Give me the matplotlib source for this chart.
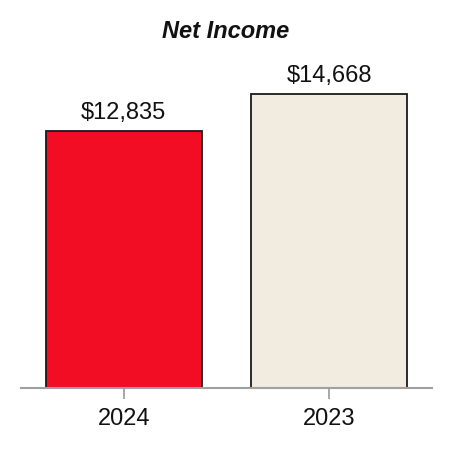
import matplotlib
matplotlib.use("Agg")
import matplotlib.pyplot as plt

categories = ["2024", "2023"]
values = [12835, 14668]
labels = ["$12,835", "$14,668"]
colors = ["#F20C24", "#F2EBDF"]

plt.rcParams['font.family'] = ['Liberation Sans', 'DejaVu Sans']

fig = plt.figure(figsize=(4.52, 4.52), dpi=100)
ax = fig.add_axes([21/452, 1 - 389/452, 411/452, 329/452])

x = list(range(len(categories)))
bars = ax.bar(x, values, width=0.76, color=colors, edgecolor="#1a1a1a", linewidth=1.3, zorder=2)
for xi, v, lab in zip(x, values, labels):
    ax.annotate(lab, (xi, v), xytext=(0, 6), textcoords="offset points",
                ha="center", va="bottom", fontsize=17, color="#111111")

ax.set_xlim(-0.5, 1.5)
ax.set_ylim(0, 16434)
ax.set_xticks(x)
ax.set_xticklabels(categories, fontsize=17, color="#111111")
ax.tick_params(axis="x", length=8, width=1.3, color="#A0A0A0", pad=6)
ax.set_yticks([])
for s in ["top", "right", "left"]:
    ax.spines[s].set_visible(False)
ax.spines["bottom"].set_color("#A0A0A0")
ax.spines["bottom"].set_linewidth(1.5)
ax.spines["bottom"].set_zorder(3)

fig.text(0.5, 1 - 31/452, "Net Income", ha="center", va="center",
         fontsize=17, fontweight="bold", fontstyle="italic", color="#111111")

fig.savefig("out.png", dpi=100)
